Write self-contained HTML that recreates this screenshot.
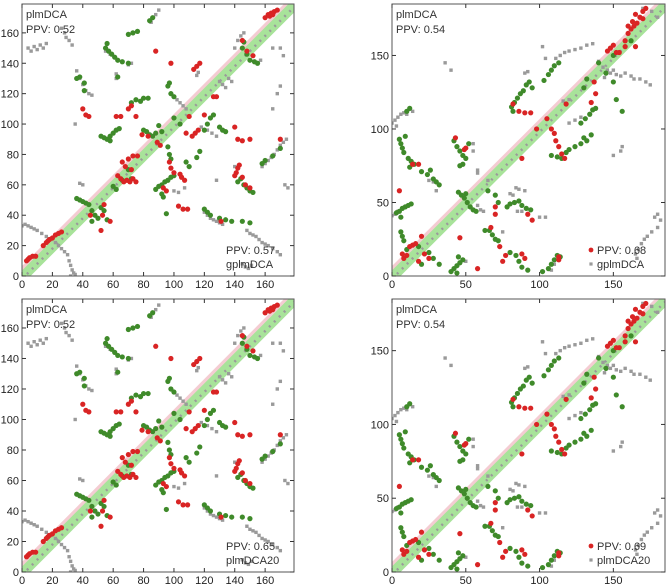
<!DOCTYPE html>
<html><head><meta charset="utf-8">
<style>
html,body{margin:0;padding:0;background:#fff;width:669px;height:586px;overflow:hidden}
svg{display:block}
text{font-family:"Liberation Sans","DejaVu Sans",sans-serif;fill:#222}
</style></head>
<body>
<svg id="chart" width="669" height="586"></svg>
<script>
// ---- Data: left protein ----
const leftTicks = [0,20,40,60,80,100,120,140,160];
const leftMax = 179;
const leftGrey = [[0,33],[2,34],[4,33],[6,32],[8,31],[10,30],[13,28],[16,26],[19,24],[22,22],[24,20],[26,18],[28,16],[30,14],[31,10],[32,7],[33,4],[34,2],[32,0],[35,1],
[4,150],[6,148],[8,151],[10,149],[12,152],[14,150],[16,153],[26,163],[28,160],[29,157],[31,155],[33,152],
[36,135],[38,130],[40,126],[42,122],[44,120],[46,119],[55,148],[58,146],[70,139],[72,140],[85,167],[88,172],[90,175],
[62,130],[62,133],[98,120],[100,118],[102,116],[104,114],[106,112],[108,110],[118,98],[122,96],[125,94],[128,92],
[120,42],[122,40],[124,38],[126,37],[128,36],[130,35],[132,34],[148,30],[150,28],[152,27],[154,26],[156,24],[158,22],[160,21],[162,20],[165,18],[168,16],[170,14],
[145,8],[147,6],[149,5],[151,7],[158,72],[160,74],[162,76],[164,78],[166,80],[168,83],[170,86],[172,88],[174,90],
[130,128],[132,126],[134,124],[136,130],[138,128],[140,150],[142,155],[144,158],[146,160],[155,140],[157,142],
[165,150],[170,150],[172,145],[175,58],[173,60],[128,63],[140,72],[40,60],[38,61],[35,100],[115,132],[116,134],[165,110],[168,120],[170,125],
[100,56],[103,55],[107,58]];
const leftGreen = [[36,51],[38,50],[40,49],[42,48],[44,47],[46,43],[48,40],[50,38],
[52,92],[54,91],[56,90],[58,92],[60,94],[62,96],[64,97],[58,89],
[55,150],[57,148],[59,146],[61,144],[63,142],[66,141],[70,140],[56,153],[70,159],[73,160],[76,161],[84,168],[86,170],
[36,130],[38,131],[41,127],[41,122],[72,114],[75,116],[78,115],[80,117],[83,117],[96,125],[97,127],[98,120],[100,118],[63,131],
[88,57],[90,59],[92,60],[94,62],[96,63],[98,65],[100,66],[92,54],[93,52],[95,41],
[96,85],[97,80],[98,77],[108,75],[110,72],[115,78],[117,82],[120,96],[122,100],[124,104],[126,106],[130,98],[132,96],[134,95],
[120,44],[122,42],[124,40],[130,38],[134,37],[138,36],[142,62],[144,64],[146,60],[148,58],[150,56],[152,55],[145,36],[150,35],
[158,74],[160,76],[165,79],[170,84],[145,150],[148,146],[150,142],[153,141],[155,140],[146,154],
[60,59],[62,57],[66,63],[70,70],[72,64],[52,45],[54,43],[56,37],[46,36],
[80,96],[82,95],[84,93],[86,92],[88,94],[90,99],[92,95],[100,104],[104,100]];
const leftRed = [[3,10],[5,12],[7,13],[9,13],[4,11],[14,20],[16,22],[18,24],[20,25],[22,27],[24,28],[26,29],[17,23],
[40,110],[42,106],[44,105],[63,66],[65,64],[67,62],[69,63],[71,62],[73,64],[75,62],[72,70],[68,72],[66,75],[70,77],[73,79],[76,79],
[62,105],[65,105],[70,110],[72,112],[75,105],[88,148],[98,140],[113,136],[115,138],[117,140],
[93,58],[95,56],[103,46],[106,44],[109,44],[89,88],[91,86],[83,92],[79,93],[104,67],[105,65],[107,63],[97,75],[98,71],[100,68],
[108,94],[112,92],[114,94],[116,96],[110,105],[120,106],[126,118],[128,118],[131,36],
[140,98],[142,90],[145,89],[150,90],[140,66],[141,68],[142,71],[143,73],[145,65],[147,60],[150,58],
[160,170],[162,172],[164,173],[166,174],[168,175],[163,171],[165,172],[145,155],[148,148],[152,145],[170,90],
[54,47],[53,40],[58,36],[52,30],[45,40]];

// ---- Data: right protein ----
const rightTicks = [0,50,100,150];
const rightMax = 185;
const rightGrey = [[0,104],[2,106],[4,108],[6,110],[8,111],[3,102],[10,110],[14,112],[0,41],[2,42],[4,44],
[25,65],[28,64],[30,58],[55,85],[55,90],[58,70],[58,72],[60,45],[62,44],[58,48],
[80,56],[82,55],[84,60],[86,59],[90,58],[85,44],[88,44],[110,8],[108,4],[100,40],[104,40],
[111,148],[114,150],[117,152],[120,153],[124,154],[128,155],[132,157],[136,158],
[140,146],[143,142],[146,140],[148,138],[150,140],[152,137],[155,136],[158,138],[162,136],[164,134],[168,134],[172,132],[175,130],
[178,40],[180,42],[182,38],[180,33],[176,30],[173,27],[171,25],[169,22],[167,18],[165,15],[166,12],
[90,138],[92,139],[155,85],[156,88],[150,82],[120,104],[124,106],[128,108],[102,156],[104,148],[144,135],
[116,119],[120,120],[40,140],[36,145],[65,65],[75,30],[170,182],[176,180],[180,176],[50,10]];
const rightGreen = [[5,93],[6,90],[7,87],[8,84],[9,95],[10,112],[12,114],[11,80],[13,78],[15,76],[12,74],
[20,71],[24,69],[28,66],[30,64],[32,62],[26,72],[3,43],[5,44],[7,46],[9,47],[11,48],[13,49],[6,40],
[6,30],[7,27],[8,24],[10,18],[40,3],[42,5],[44,7],[46,9],[48,11],[45,13],[44,2],
[42,92],[44,88],[46,85],[48,82],[50,80],[48,76],[52,90],[46,75],[45,57],[47,55],[49,53],[51,50],[53,47],[55,45],[57,44],[50,56],
[63,31],[66,31],[68,28],[70,25],[72,24],[78,47],[80,49],[83,50],[86,51],[88,48],[91,46],[94,45],
[80,16],[84,14],[86,10],[88,6],[92,4],[102,3],[106,5],[108,8],[110,11],[112,14],[114,13],
[81,115],[82,112],[83,118],[85,121],[87,124],[89,126],[91,130],[93,132],[95,128],
[108,82],[112,81],[115,80],[118,84],[120,86],[124,88],[128,90],[132,92],[135,96],[130,94],
[128,104],[131,107],[134,110],[136,113],[138,114],[103,133],[106,137],[108,140],[110,143],[113,145],
[130,128],[132,134],[140,145],[145,138],[150,132],[152,120],[156,112],[150,150],[162,160],
[65,58],[70,55],[72,50],[25,16],[28,12],[32,8],[20,8],[18,20]];
const rightRed = [[5,58],[7,15],[8,12],[10,14],[12,20],[14,21],[16,22],[18,10],[20,27],[22,15],[25,12],[14,76],[18,76],
[43,94],[49,86],[50,87],[46,26],[58,5],[67,33],[70,47],[70,42],[73,20],[75,10],[77,14],[88,80],[88,15],[90,12],
[82,117],[86,112],[90,111],[94,111],[105,107],[108,100],[110,97],[111,92],[113,88],[115,83],[117,80],[113,13],[113,11],
[135,118],[138,124],[118,117],[146,153],[148,155],[150,157],[152,152],[154,152],[158,160],[160,165],[162,168],[164,170],[166,172],[168,176],[163,173],[165,178],[170,180],[172,182],[170,175],[160,170],[158,156],[165,156],
[137,132],[98,100],[92,42],[95,38]];

const panelLabels = ["PPV: 0.52","PPV: 0.54"];
const methodLabels = ["gplmDCA","gplmDCA","plmDCA20","plmDCA20"];
const methodPPV = ["PPV: 0.57","PPV: 0.68","PPV: 0.65","PPV: 0.69"];

const NS = "http://www.w3.org/2000/svg";
const svg = document.getElementById('chart');
function mk(tag, attrs, parent){const e=document.createElementNS(NS,tag);for(const k in attrs)e.setAttribute(k,attrs[k]);parent.appendChild(e);return e;}

function panel(idx, x0, y0, w, h, max, ticks, grey, green, red, showLegendMarkers){
  const g = mk('g',{},svg);
  
  
  const sx = v => x0 + v/max*w;
  const sy = v => y0 + h - v/max*h;
  const clip = mk('clipPath',{id:'c'+idx},g);
  mk('rect',{x:x0,y:y0,width:w,height:h},clip);
  const inner = mk('g',{'clip-path':'url(#c'+idx+')'},g);
  const pink = mk('line',{x1:sx(0),y1:sy(1.5),x2:sx(max),y2:sy(max+1.5),stroke:'#f4ccd2','stroke-width':11},inner);
  
  
  const lg = mk('line',{x1:sx(0),y1:sy(-1),x2:sx(max),y2:sy(max-1),stroke:'#a8e39a','stroke-width':10},inner);
  
  
  const dg = mk('line',{x1:sx(0),y1:sy(-2),x2:sx(max),y2:sy(max-2),stroke:'#9a9a9a','stroke-width':2.5,'stroke-dasharray':'2 5'},inner);
  
  
  grey.forEach(p=>{
    const r = mk('rect',{x:sx(p[0])-1.7,y:sy(p[1])-1.7,width:3.4,height:3.4,fill:'#9a9a9a'},inner);
    
    
  });
  green.forEach(p=>{
    const c = mk('circle',{cx:sx(p[0]),cy:sy(p[1]),r:2.6,fill:'#3f8a2a'},inner);
    
    
  });
  red.forEach(p=>{
    const c = mk('circle',{cx:sx(p[0]),cy:sy(p[1]),r:2.6,fill:'#d92424'},inner);
    
    
  });
  const fr = mk('rect',{x:x0,y:y0,width:w,height:h,fill:'none',stroke:'#555','stroke-width':1},g);
  
  
  ticks.forEach(t=>{
    const xt = mk('text',{x:sx(t),y:y0+h+12,'font-size':11,'text-anchor':'middle'},g);
    xt.textContent=t;
    
    
    const yt = mk('text',{x:x0-3,y:sy(t)+4,'font-size':11,'text-anchor':'end'},g);
    yt.textContent=t;
    
    
    mk('line',{x1:sx(t),y1:y0+h,x2:sx(t),y2:y0+h-4,stroke:'#333'},g);
    mk('line',{x1:sx(t),y1:y0,x2:sx(t),y2:y0+4,stroke:'#333'},g);
    mk('line',{x1:x0,y1:sy(t),x2:x0+4,y2:sy(t),stroke:'#333'},g);
    mk('line',{x1:x0+w,y1:sy(t),x2:x0+w-4,y2:sy(t),stroke:'#333'},g);
  });
  const t1 = mk('text',{x:x0+4,y:y0+14,'font-size':11,style:'fill:#333'},g);
  t1.textContent='plmDCA';
  
  
  const t2 = mk('text',{x:x0+4,y:y0+29,'font-size':11,style:'fill:#333'},g);
  t2.textContent=panelLabels[idx%2];
  
  
  const bx = x0+w-70;
  if(showLegendMarkers){
    const m1 = mk('circle',{cx:bx-4,cy:y0+h-26,r:2.4,fill:'#d92424'},g);
    
    
    const m2 = mk('rect',{x:bx-5.6,y:y0+h-13.6,width:3.2,height:3.2,fill:'#9a9a9a'},g);
    
    
  }
  const b1 = mk('text',{x:bx+2,y:y0+h-22,'font-size':11,style:'fill:#333'},g);
  b1.textContent=methodPPV[idx];
  
  
  const b2 = mk('text',{x:bx+2,y:y0+h-8,'font-size':11,style:'fill:#333'},g);
  b2.textContent=methodLabels[idx];
  
  
}
panel(0, 22, 4, 272, 272, leftMax, leftTicks, leftGrey, leftGreen, leftRed, false);
panel(1, 392, 4, 273, 272, rightMax, rightTicks, rightGrey, rightGreen, rightRed, true);
panel(2, 22, 299, 272, 273, leftMax, leftTicks, leftGrey, leftGreen, leftRed, false);
panel(3, 392, 299, 273, 273, rightMax, rightTicks, rightGrey, rightGreen, rightRed, true);
</script>
</body></html>
